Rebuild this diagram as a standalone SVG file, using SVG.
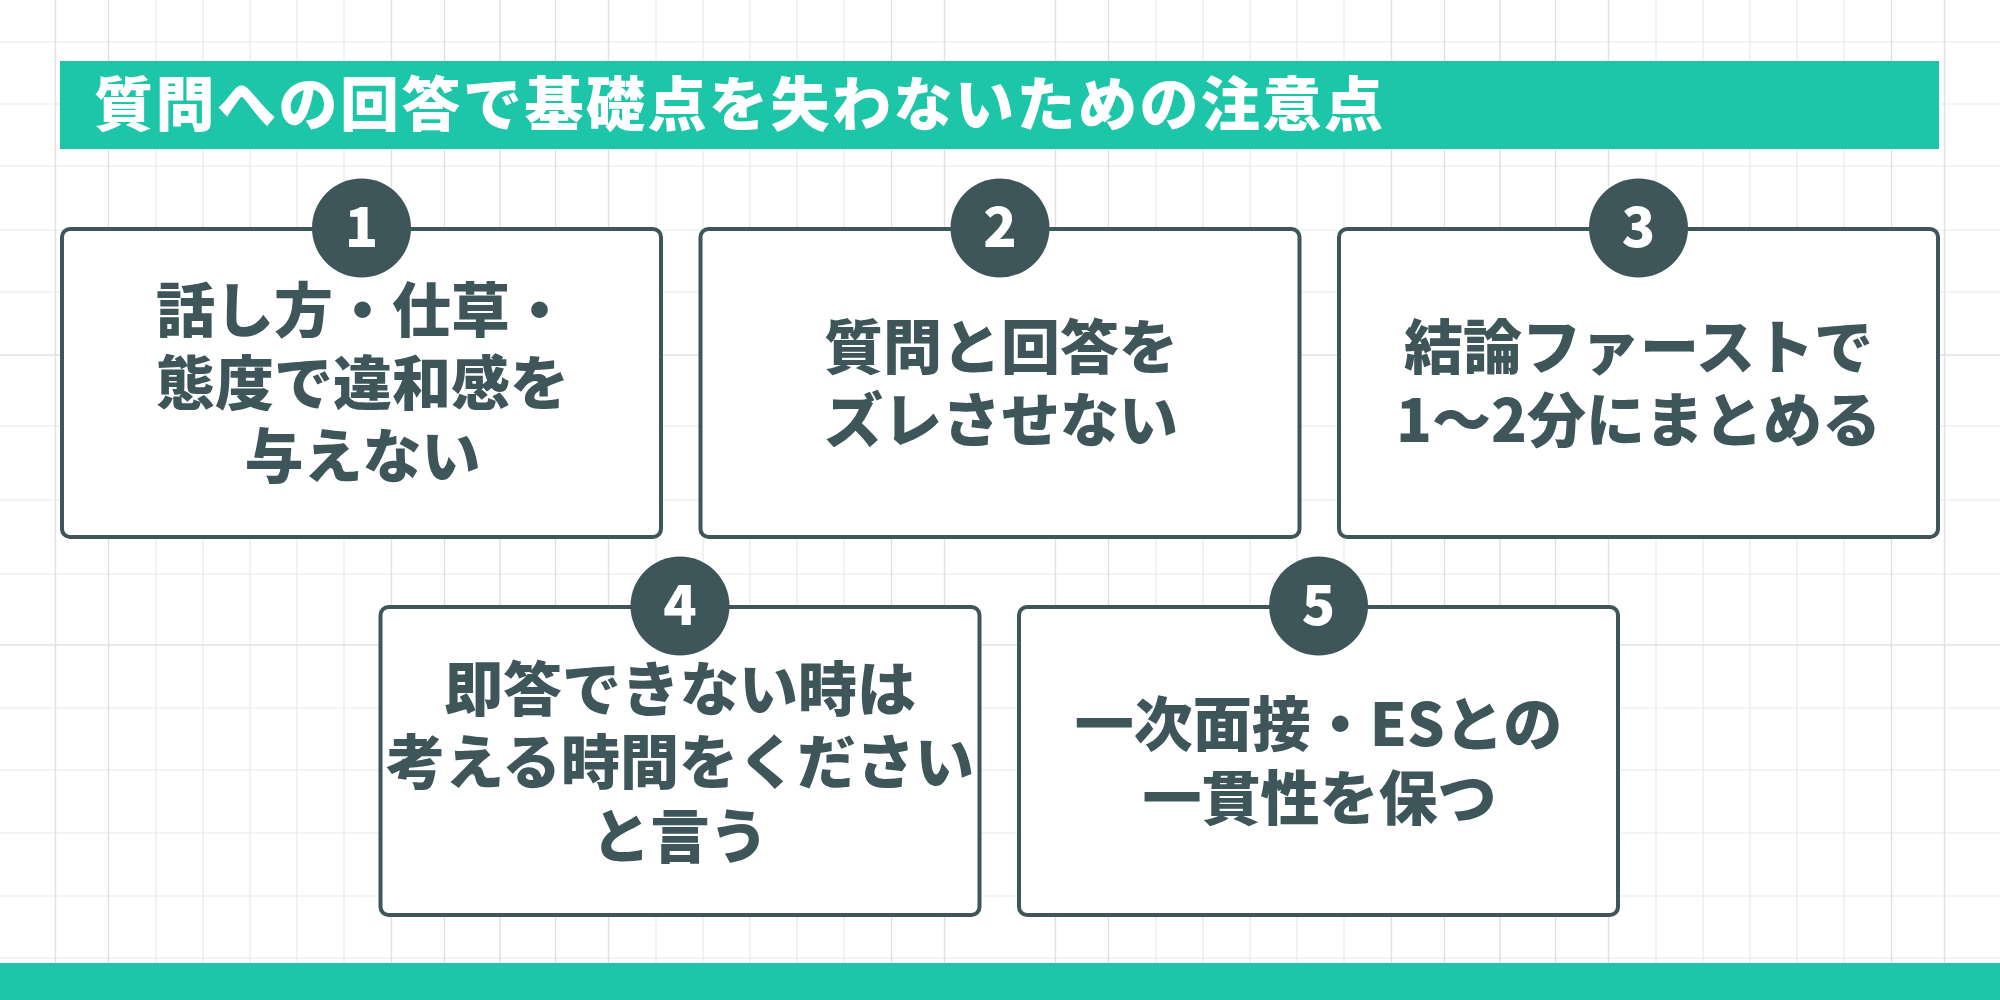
<svg xmlns="http://www.w3.org/2000/svg" width="2000" height="1000" viewBox="0 0 2000 1000">
<style>
.t{font-family:"Noto Sans CJK JP","Noto Sans",sans-serif;font-weight:900;text-anchor:middle}
.b{font-size:59px;fill:#3e5659}
.n{font-size:55px;fill:#fff}
.box{fill:#fff;stroke:#3e5659;stroke-width:4}
.c{fill:#3e5659}
.teal{fill:#1dc6a8}
</style>
<defs>
<pattern id="grid" width="1000" height="1000" patternUnits="userSpaceOnUse">
<path d="M156 0V1000M203 0V1000M250 0V1000M297 0V1000M344 0V1000M656 0V1000M703 0V1000M750 0V1000M797 0V1000M844 0V1000M0 42H1000M0 104H1000M0 166H1000M0 230H1000M0 292H1000M0 426H1000M0 500H1000M0 574H1000M0 708H1000M0 770H1000M0 833H1000M0 896H1000M0 958H1000" fill="none" stroke="#e8eaea" stroke-width="1.2"/>
<path d="M55.5 0V1000M108.5 0V1000M391.5 0V1000M444.5 0V1000M500 0V1000M555.5 0V1000M608.5 0V1000M891.5 0V1000M944.5 0V1000M0 355H1000M0 645H1000" fill="none" stroke="#dfe1e1" stroke-width="1.4"/>
</pattern>
</defs>
<rect width="2000" height="1000" fill="#fff"/>
<rect width="2000" height="1000" fill="url(#grid)"/>
<rect class="teal" x="0" y="963" width="2000" height="37"/>
<g id="title">
<rect class="teal" x="60" y="61" width="1879" height="88"/>
<text class="t" x="94" y="126" font-size="59" letter-spacing="2.5" fill="#fff" style="text-anchor:start">質問への回答で基礎点を失わないための注意点</text>
</g>
<g id="connectors"></g>
<g id="node1">
<rect class="box" x="62" y="229" width="599" height="308" rx="8"/>
<circle class="c" cx="361.5" cy="228" r="49.5"/>
<text class="t n" x="361.5" y="247">1</text>
<text class="t b" x="362.5" y="332">話し方・仕草・</text>
<text class="t b" x="362.5" y="405">態度で違和感を</text>
<text class="t b" x="362.5" y="478">与えない</text>
</g>
<g id="node2">
<rect class="box" x="700.5" y="229" width="599" height="308" rx="8"/>
<circle class="c" cx="1000" cy="228" r="49.5"/>
<text class="t n" x="1000" y="247">2</text>
<text class="t b" x="1001" y="369">質問と回答を</text>
<text class="t b" x="1001" y="442">ズレさせない</text>
</g>
<g id="node3">
<rect class="box" x="1339" y="229" width="599" height="308" rx="8"/>
<circle class="c" cx="1638.5" cy="228" r="49.5"/>
<text class="t n" x="1638.5" y="247">3</text>
<text class="t b" x="1638.5" y="369">結論ファーストで</text>
<text class="t b" x="1638.5" y="442">1～2分にまとめる</text>
</g>
<g id="node4">
<rect class="box" x="380.5" y="607" width="599" height="308" rx="8"/>
<circle class="c" cx="680" cy="606" r="49.5"/>
<text class="t n" x="680" y="625">4</text>
<text class="t b" x="680" y="711">即答できない時は</text>
<text class="t b" x="680" y="784">考える時間をください</text>
<text class="t b" x="680" y="858">と言う</text>
</g>
<g id="node5">
<rect class="box" x="1019" y="607" width="599" height="308" rx="8"/>
<circle class="c" cx="1318.5" cy="606" r="49.5"/>
<text class="t n" x="1318.5" y="625">5</text>
<text class="t b" x="1318.5" y="746">一次面接・ESとの</text>
<text class="t b" x="1319.5" y="820">一貫性を保つ</text>
</g>
</svg>
